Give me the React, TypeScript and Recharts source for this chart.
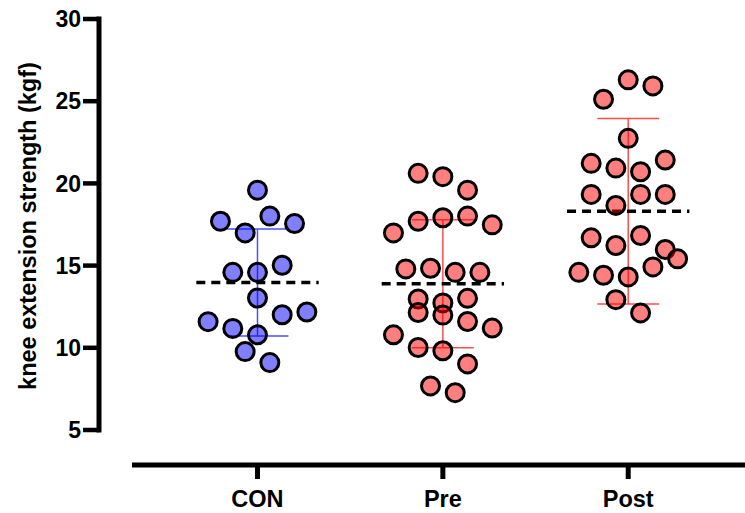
import React from "react";
import {
  ScatterChart,
  Scatter,
  XAxis,
  YAxis,
  ReferenceLine,
  Label,
} from "recharts";

// ---- data ----
const CATEGORIES = ["CON", "Pre", "Post"];
const Y_TICKS = [5, 10, 15, 20, 25, 30];

const CON_VALUES = [19.59, 17.7, 18.01, 17.56, 16.99, 14.59, 14.59, 15.02, 13.03, 11.59, 11.18, 12.01, 12.18, 10.79, 9.77, 9.1];
const CON_SLOTS = [0, -3, 1, 3, -1, -2, 0, 2, 0, -4, -2, 2, 4, 0, -1, 1];

const PRE_VALUES = [20.61, 20.41, 19.59, 17.7, 17.91, 18.01, 17.48, 16.99, 14.8, 14.84, 14.59, 14.59, 12.97, 12.73, 13.01, 12.15, 11.99, 11.6, 11.2, 10.79, 10.02, 9.82, 9.02, 7.68, 7.27];
const PRE_SLOTS = [-2, 0, 2, -2, 0, 2, 4, -4, -3, -1, 1, 3, -2, 0, 2, -2, 0, 2, 4, -4, -2, 0, 2, -1, 1];

const POST_VALUES = [26.3, 25.93, 25.12, 22.74, 21.22, 20.93, 20.71, 21.42, 19.33, 19.33, 19.33, 18.66, 16.69, 16.22, 16.83, 15.98, 15.41, 14.92, 14.59, 14.41, 14.31, 12.93, 12.12];
const POST_SLOTS = [0, 2, -2, 0, -3, -1, 1, 3, -3, 1, 3, -1, -3, -1, 1, 3, 4, 2, -4, -2, 0, -1, 1];

const MEANS = [13.97, 13.9, 18.31];
const SDS = [3.25, 3.89, 5.64];

// ---- layout constants ----
const SLOT_STEP = 0.0666;
const X_DOMAIN: [number, number] = [0.145, 3.63];
const Y_DOMAIN: [number, number] = [2.871, 30];
const X_AXIS_START = 0.323;
const CAP_HALF = 0.167;
const MEAN_HALF = 0.33;
const FONT = "'Liberation Sans', Arial, Helvetica, sans-serif";

const COLORS = ["#0000ff", "#ff0000", "#ff0000"];
const BAR_COLORS = ["#4d4dff", "#ff4d4d", "#ff4d4d"];

const build = (values: number[], slots: number[], idx: number) =>
  values.map((v, i) => ({ x: idx + 1 + slots[i] * SLOT_STEP, y: v }));

const GROUPS = [
  build(CON_VALUES, CON_SLOTS, 0),
  build(PRE_VALUES, PRE_SLOTS, 1),
  build(POST_VALUES, POST_SLOTS, 2),
];

const makeShape = (fill: string) => (props: any) => (
  <circle
    cx={props.cx}
    cy={props.cy}
    r={9}
    fill={fill}
    fillOpacity={0.5}
    stroke="#000"
    strokeWidth={3}
  />
);

const YLabel = () => (
  <text
    transform="translate(28,226) rotate(-90)"
    textAnchor="middle"
    dominantBaseline="central"
    fontFamily={FONT}
    fontWeight="bold"
    fontSize={23.5}
    fill="#000"
  >
    knee extension strength (kgf)
  </text>
);

export default function App() {
  return (
    <div style={{ position: "absolute", left: 0, top: 0, background: "#fff" }}>
      <ScatterChart
        width={745}
        height={513}
        margin={{ top: 19, right: 0, bottom: 0, left: 0 }}
      >
        <XAxis
          type="number"
          dataKey="x"
          domain={X_DOMAIN}
          ticks={[1, 2, 3]}
          allowDataOverflow
          axisLine={false}
          tickLine={{ stroke: "#000", strokeWidth: 5 }}
          tickSize={14}
          tickMargin={11}
          height={48}
          tickFormatter={(v: number) => CATEGORIES[Math.round(v) - 1] ?? ""}
          tick={{ fill: "#000", fontFamily: FONT, fontWeight: "bold", fontSize: 23.5 }}
          interval={0}
        />
        <YAxis
          type="number"
          dataKey="y"
          domain={Y_DOMAIN}
          ticks={Y_TICKS}
          allowDataOverflow
          axisLine={false}
          tickLine={{ stroke: "#000", strokeWidth: 4.5 }}
          tickSize={16}
          tickMargin={2}
          width={99}
          interval={0}
          tick={{ fill: "#000", fontFamily: FONT, fontWeight: "bold", fontSize: 23 }}
        >
          <Label content={<YLabel />} />
        </YAxis>

        {GROUPS.map((g, i) => (
          <Scatter
            key={CATEGORIES[i]}
            data={g}
            shape={makeShape(COLORS[i])}
            isAnimationActive={false}
          />
        ))}

        {MEANS.map((m, i) => (
          <ReferenceLine
            key={"v" + i}
            segment={[
              { x: i + 1, y: m - SDS[i] },
              { x: i + 1, y: m + SDS[i] },
            ]}
            stroke={BAR_COLORS[i]}
            strokeWidth={1.5}
            ifOverflow="visible"
          />
        ))}
        {MEANS.map((m, i) => (
          <ReferenceLine
            key={"t" + i}
            segment={[
              { x: i + 1 - CAP_HALF, y: m + SDS[i] },
              { x: i + 1 + CAP_HALF, y: m + SDS[i] },
            ]}
            stroke={BAR_COLORS[i]}
            strokeWidth={1.5}
            ifOverflow="visible"
          />
        ))}
        {MEANS.map((m, i) => (
          <ReferenceLine
            key={"b" + i}
            segment={[
              { x: i + 1 - CAP_HALF, y: m - SDS[i] },
              { x: i + 1 + CAP_HALF, y: m - SDS[i] },
            ]}
            stroke={BAR_COLORS[i]}
            strokeWidth={1.5}
            ifOverflow="visible"
          />
        ))}
        {MEANS.map((m, i) => (
          <ReferenceLine
            key={"m" + i}
            segment={[
              { x: i + 1 - MEAN_HALF, y: m },
              { x: i + 1 + MEAN_HALF, y: m },
            ]}
            stroke="#000"
            strokeWidth={3.5}
            strokeDasharray="9 6"
            ifOverflow="visible"
          />
        ))}

        <ReferenceLine
          segment={[
            { x: X_DOMAIN[0], y: 5 },
            { x: X_DOMAIN[0], y: 30 },
          ]}
          stroke="#000"
          strokeWidth={5}
          strokeLinecap="square"
          ifOverflow="visible"
        />
        <ReferenceLine
          segment={[
            { x: X_AXIS_START, y: Y_DOMAIN[0] },
            { x: X_DOMAIN[1], y: Y_DOMAIN[0] },
          ]}
          stroke="#000"
          strokeWidth={5}
          ifOverflow="visible"
        />
      </ScatterChart>
    </div>
  );
}
